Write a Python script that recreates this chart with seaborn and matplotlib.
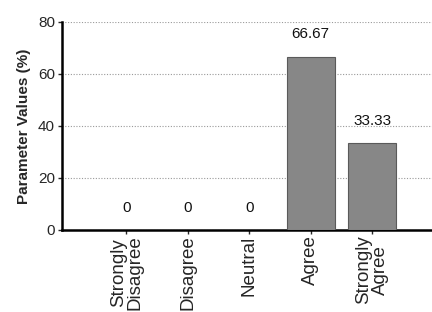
import matplotlib
matplotlib.use("Agg")
import matplotlib.pyplot as plt
import seaborn as sns
import pandas as pd

categories = ["Strongly\nDisagree", "Disagree", "Neutral", "Agree", "Strongly\nAgree"]
values = [0, 0, 0, 66.67, 33.33]
value_labels = ["0", "0", "0", "66.67", "33.33"]
y_ticks = [0, 20, 40, 60, 80]

sns.set_style("white")
plt.rcParams['font.family'] = ['Liberation Sans', 'DejaVu Sans']

df = pd.DataFrame({"category": categories, "value": values})

fig = plt.figure(figsize=(4.32, 3.12), dpi=100)
ax = fig.add_axes([0.1435, 0.263, 0.86, 0.667])

sns.barplot(data=df, x="category", y="value", color="#878787", width=0.78,
            edgecolor="#5a5a5a", linewidth=0.8, saturation=1, ax=ax, zorder=3)

# value labels above bars
for i, (v, lab) in enumerate(zip(values, value_labels)):
    ax.text(i, v + 8.5, lab, ha="center", va="center", fontsize=11, color="#111111")

ax.set_ylim(0, 80)
ax.set_xlim(-1.05, 5.0)
ax.set_yticks(y_ticks)
ax.set_yticklabels([str(t) for t in y_ticks], fontsize=11)
ax.yaxis.grid(True, linestyle=(0, (1, 1.5)), color="#9a9a9a", linewidth=0.8, zorder=0)
ax.set_axisbelow(True)

ax.set_xticks(range(len(categories)))
ax.set_xticklabels(categories, rotation=90, fontsize=13.5, ha="center", va="top",
                   multialignment="center", linespacing=0.95)
ax.set_xlabel("")
ax.set_ylabel("Parameter Values (%)", fontsize=11, fontweight="bold", labelpad=5)

for s in ["top", "right"]:
    ax.spines[s].set_visible(False)
for s in ["left", "bottom"]:
    ax.spines[s].set_color("black")
    ax.spines[s].set_linewidth(1.8)

ax.tick_params(axis="y", length=3, width=1, direction="out", left=True, pad=2)
ax.tick_params(axis="x", length=3, width=1, direction="out", bottom=True, pad=1)

fig.savefig("out.png", dpi=100)
